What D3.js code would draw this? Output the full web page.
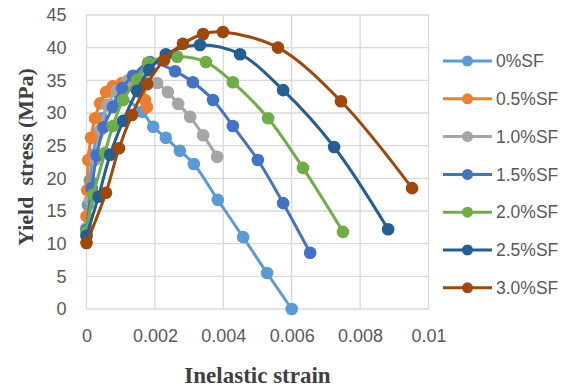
<!DOCTYPE html>
<html><head><meta charset="utf-8">
<script src="https://cdn.jsdelivr.net/npm/d3@7"></script>
<style>body{margin:0;background:#fff}</style>
</head><body>
<svg id="c" width="568" height="388"></svg>
<script>
const seriesNames = ["0%SF","0.5%SF","1.0%SF","1.5%SF","2.0%SF","2.5%SF","3.0%SF"];
const seriesColors = ["#5B9BD5","#ED7D31","#A5A5A5","#4472C4","#70AD47","#255E91","#9E480E"];
const xTicks = [0,0.002,0.004,0.006,0.008,0.01];
const xTickLabels = ["0","0.002","0.004","0.006","0.008","0.01"];
const yTicks = [0,5,10,15,20,25,30,35,40,45];

const sf0 = [[0,11.3],[0.00004,15.9],[0.0001,19.7],[0.00019,23.6],[0.00031,26.6],[0.00045,29.2],[0.00069,31.2],[0.00098,32.3],[0.00162,30.2],[0.00195,27.9],[0.00232,26.2],[0.00273,24.2],[0.00314,22.2],[0.00384,16.7],[0.00458,11.0],[0.00528,5.5],[0.006,0]];
const sf05 = [[0,14.2],[0.00002,18.2],[0.00005,22.8],[0.00013,26.2],[0.00025,29.2],[0.0004,31.5],[0.00057,33.2],[0.00077,34.1],[0.00104,34.6],[0.00133,34.3],[0.00156,33.2],[0.00171,32.0],[0.00177,30.9]];
const sf10 = [[0,12.4],[0.0001,16.7],[0.00025,22.8],[0.0004,27.4],[0.0006,31.2],[0.00089,33.5],[0.00121,35.0],[0.00156,35.8],[0.00206,34.6],[0.00238,33.2],[0.00268,31.4],[0.00303,29.4],[0.00341,26.6],[0.00382,23.3]];
const sf15 = [[0,12.1],[0.00015,18.5],[0.0003,23.5],[0.0005,27.8],[0.00077,30.9],[0.00104,33.8],[0.00136,35.7],[0.00186,37.8],[0.00259,36.4],[0.00311,34.7],[0.0037,32.0],[0.00428,28.0],[0.00501,22.8],[0.00575,16.2],[0.00654,8.6]];
const sf20 = [[0,11.8],[0.0002,17.5],[0.00054,23.9],[0.00077,28.0],[0.00107,32.0],[0.00148,35.1],[0.0018,37.7],[0.00265,38.6],[0.00349,37.8],[0.00428,34.7],[0.00531,29.2],[0.00633,21.6],[0.0075,11.8]];
const sf25 = [[0,11.2],[0.00035,17.2],[0.00069,23.6],[0.00107,28.8],[0.00148,33.4],[0.00183,36.6],[0.00232,39.0],[0.00332,40.4],[0.00449,39.0],[0.00575,33.5],[0.00724,24.8],[0.00882,12.2]];
const sf30 = [[0,10.1],[0.00057,17.8],[0.00095,24.6],[0.00133,29.7],[0.00177,34.4],[0.00227,38.1],[0.00282,40.6],[0.00341,42.1],[0.00399,42.4],[0.0056,40.0],[0.00744,31.8],[0.00952,18.5]];
const seriesData = [sf0,sf05,sf10,sf15,sf20,sf25,sf30];

const svg = d3.select("#c");
const x = d3.scaleLinear().domain([0,0.01]).range([86.5,428.5]);
const y = d3.scaleLinear().domain([0,45]).range([309,15]);

const g = svg.append("g");
// grid
g.selectAll(".vg").data(xTicks).enter().append("line")
  .attr("x1",d=>x(d)).attr("x2",d=>x(d)).attr("y1",y(0)).attr("y2",y(45))
  .attr("stroke","#D9D9D9").attr("stroke-width",1.3);
g.selectAll(".hg").data(yTicks).enter().append("line")
  .attr("x1",x(0)).attr("x2",x(0.01)).attr("y1",d=>y(d)).attr("y2",d=>y(d))
  .attr("stroke","#D9D9D9").attr("stroke-width",1.3);

// axes labels via d3 axes
const xAxis = d3.axisBottom(x).tickValues(xTicks).tickFormat((d,i)=>xTickLabels[i]).tickSize(0).tickPadding(20);
const xa = svg.append("g").attr("transform",`translate(0,${y(0)})`).call(xAxis);
const yAxis = d3.axisLeft(y).tickValues(yTicks).tickSize(0).tickPadding(20);
const ya = svg.append("g").attr("transform",`translate(${x(0)},0)`).call(yAxis);
[xa,ya].forEach(a=>{
  a.select(".domain").remove();
  a.selectAll("text").attr("font-family","'Liberation Sans',Arial,sans-serif").attr("font-size",18).attr("fill","#595959");
});

const line = d3.line().x(d=>x(d[0])).y(d=>y(d[1])).curve(d3.curveCatmullRom.alpha(0.5));
seriesData.forEach((data,i)=>{
  const sg = svg.append("g");
  sg.append("path").datum(data).attr("d",line).attr("fill","none")
    .attr("stroke",seriesColors[i]).attr("stroke-width",3);
  sg.selectAll("circle").data(data).enter().append("circle")
    .attr("cx",d=>x(d[0])).attr("cy",d=>y(d[1])).attr("r",6.3)
    .attr("fill",seriesColors[i]);
});

// legend
const lg = svg.append("g");
seriesNames.forEach((n,i)=>{
  const ly = 61 + i*37.8;
  lg.append("line").attr("x1",443).attr("x2",492).attr("y1",ly).attr("y2",ly)
    .attr("stroke",seriesColors[i]).attr("stroke-width",3);
  lg.append("circle").attr("cx",467.5).attr("cy",ly).attr("r",5.5).attr("fill",seriesColors[i]);
  lg.append("text").attr("x",496).attr("y",ly).attr("dy","0.35em")
    .attr("font-family","'Liberation Sans',Arial,sans-serif").attr("font-size",17.5).attr("fill","#595959").text(n);
});

// titles
svg.append("text").attr("x",257.5).attr("y",375).attr("dy","0.35em").attr("text-anchor","middle")
  .attr("font-family","'Liberation Serif','Times New Roman',serif").attr("font-weight","bold")
  .attr("font-size",23).attr("fill","#404040").text("Inelastic strain");
svg.append("text").attr("transform","translate(25,157) rotate(-90)").attr("dy","0.35em").attr("text-anchor","middle")
  .attr("font-family","'Liberation Serif','Times New Roman',serif").attr("font-weight","bold")
  .attr("font-size",22).attr("fill","#404040").attr("xml:space","preserve").style("white-space","pre").text("Yield  stress (MPa)");
</script>
</body></html>
